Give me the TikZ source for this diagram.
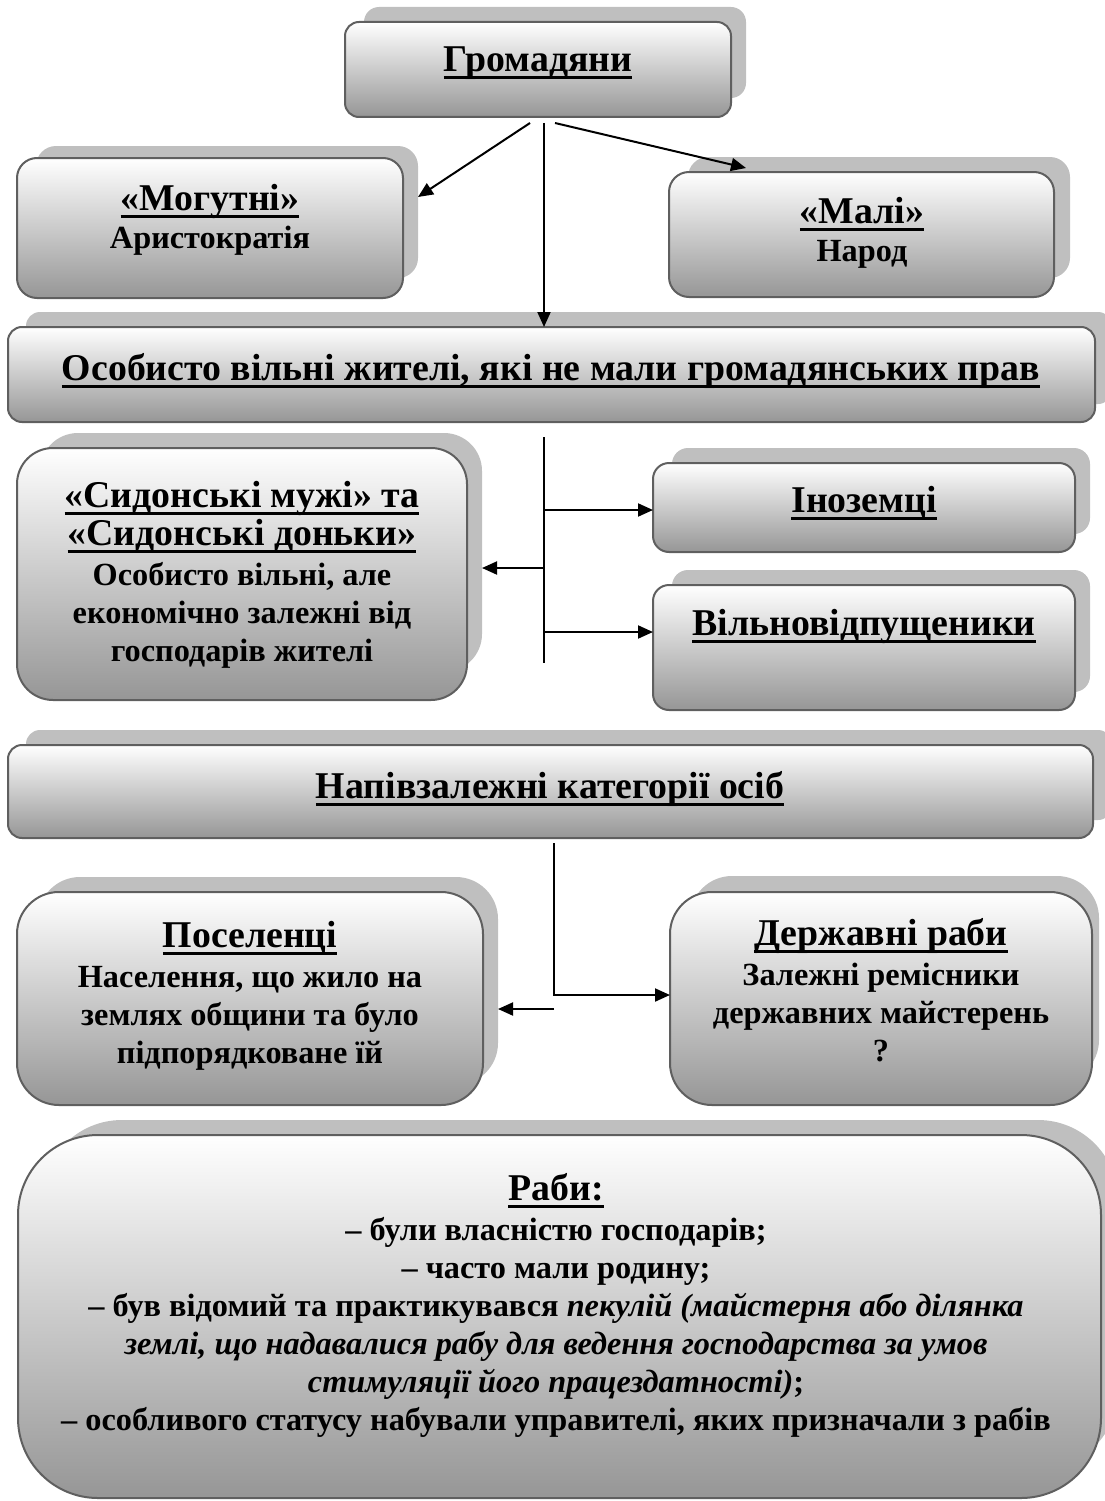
\documentclass[tikz,border=0pt]{standalone}
\usepackage{fontspec}
\setmainfont{Liberation Serif}
\usetikzlibrary{arrows.meta}
\newsavebox\ulbox
\newcommand\ulx[1]{\sbox\ulbox{#1}\rlap{\rule[-7.5pt]{\wd\ulbox}{3pt}}\usebox\ulbox}
\newcommand\hd{\fontsize{37.8}{38}\selectfont}
\newcommand\bd{\fontsize{32.3}{38}\selectfont}
\definecolor{edge}{HTML}{5F5F5F}
\definecolor{shad}{HTML}{BFBFBF}
\definecolor{grad}{HTML}{969696}
\tikzset{
  boxmain/.style={draw=edge, line width=2pt, top color=white, bottom color=grad, inner sep=0pt, outer sep=0pt},
  boxshadow/.style={fill=shad, draw=none, inner sep=0pt, outer sep=0pt},
  txt/.style={inner sep=0pt, outer sep=0pt, font=\bfseries\bd, anchor=base, text=black},
  conn/.style={line width=2pt, black},
  arr/.style={conn, -{Triangle[length=15pt,width=13pt]}},
}
% name, style, x1, y1, x2, y2, radius
\newcommand\rbox[7]{\node[#2, rounded corners=#7pt, minimum width={(#5)-(#3)}, minimum height={(#6)-(#4)}] (#1) at ({((#3)+(#5))/2},{((#4)+(#6))/2}) {};}
\begin{document}
\begin{tikzpicture}[x=1pt,y=-1pt]
\useasboundingbox (0,0) rectangle (1105,1501);
\clip (0,0) rectangle (1105,1501);
% shadows
\rbox{grs}{boxshadow}{364}{7}{746}{98}{15}
\rbox{mgs}{boxshadow}{36}{146}{418}{278}{20}
\rbox{mls}{boxshadow}{688}{157}{1070}{278}{20}
\rbox{oss}{boxshadow}{26}{312}{1112}{404}{14}
\rbox{sds}{boxshadow}{40}{433}{482}{672}{38}
\rbox{ins}{boxshadow}{672}{448}{1090}{534}{16}
\rbox{vls}{boxshadow}{672}{570}{1090}{692}{16}
\rbox{nps}{boxshadow}{26}{730}{1112}{820}{14}
\rbox{pss}{boxshadow}{38}{877}{498}{1085}{42}
\rbox{drs}{boxshadow}{690}{876}{1099}{1082}{42}
\rbox{rbs}{boxshadow}{42}{1120}{1118}{1470}{80}
% main boxes
\rbox{gr}{boxmain}{345}{22}{731}{117}{14}
\rbox{mg}{boxmain}{17}{158}{403}{298}{20}
\rbox{ml}{boxmain}{669}{172}{1054}{297}{20}
\rbox{os}{boxmain}{8}{327}{1095}{422}{14}
\rbox{sd}{boxmain}{17}{448}{467}{700}{36}
\rbox{in}{boxmain}{653}{463}{1075}{552}{16}
\rbox{vl}{boxmain}{653}{585}{1075}{710}{16}
\rbox{np}{boxmain}{8}{745}{1093}{838}{14}
\rbox{ps}{boxmain}{17}{892}{483}{1105}{42}
\rbox{dr}{boxmain}{670}{892}{1092}{1105}{42}
\rbox{rb}{boxmain}{18}{1135}{1101}{1498}{80}
% texts
\node[txt] (tgr) at (538,72) {\hd\ulx{Громадяни}};
\node[txt] (tmg) at (210,210) {\begin{tabular}[t]{@{}c@{}}\hd\ulx{«Могутні»}\\ Аристократія\end{tabular}};
\node[txt] (tml) at (862,223) {\begin{tabular}[t]{@{}c@{}}\hd\ulx{«Малі»}\\ Народ\end{tabular}};
\node[txt] (tos) at (551,380) {\hd\ulx{Особисто вільні жителі, які не мали громадянських прав}};
\node[txt] (tsd) at (242,507) {\begin{tabular}[t]{@{}c@{}}\hd\ulx{«Сидонські мужі» та}\\ \hd\ulx{«Сидонські доньки»}\\[2pt] Особисто вільні, але\\ економічно залежні від\\ господарів жителі\end{tabular}};
\node[txt] (tin) at (864,512) {\hd\ulx{Іноземці}};
\node[txt] (tvl) at (864,635) {\hd\ulx{Вільновідпущеники}};
\node[txt] (tnp) at (550,798) {\hd\ulx{Напівзалежні категорії осіб}};
\node[txt] (tps) at (250,947) {\begin{tabular}[t]{@{}c@{}}\hd\ulx{Поселенці}\\[2pt] Населення, що жило на\\ землях общини та було\\ підпорядковане їй\end{tabular}};
\node[txt] (tdr) at (881,945) {\begin{tabular}[t]{@{}c@{}}\hd\ulx{Державні раби}\\[2pt] Залежні ремісники\\ державних майстерень\\ ?\end{tabular}};
\node[txt] (trb) at (556,1200) {\begin{tabular}[t]{@{}c@{}}\hd\ulx{Раби:}\\[2pt]
– були власністю господарів;\\
– часто мали родину;\\
– був відомий та практикувався \textit{пекулій (майстерня або ділянка}\\
\textit{землі, що надавалися рабу для ведення господарства за умов}\\
\textit{стимуляції його працездатності)};\\
– особливого статусу набували управителі, яких призначали з рабів\end{tabular}};
% connectors
\coordinate (gL) at (530,123);
\coordinate (gR) at (555,123);
\coordinate (gC) at (544,123);
\coordinate (mgT) at (418,197);
\coordinate (mlT) at (746,168);
\draw[arr] (gL) -- (mgT);
\draw[arr] (gR) -- (mlT);
\draw[arr] (gC) -- (gC |- os.north);
\coordinate (v1) at (544,437);
\coordinate (v2) at (544,663);
\coordinate (b1) at (544,510);
\coordinate (b2) at (544,632);
\coordinate (b3) at (544,568);
\draw[conn] (v1) -- (v2);
\draw[arr] (b1) -- (b1 -| in.west);
\draw[arr] (b2) -- (b2 -| vl.west);
\draw[arr] (b3) -- (b3 -| sds.east);
\coordinate (c1) at (554,843);
\coordinate (c2) at (554,995);
\coordinate (c3) at (554,1009);
\draw[arr] (c1) -- (c2) -- (c2 -| dr.west);
\draw[arr] (c3) -- (c3 -| pss.east);
\end{tikzpicture}
\end{document}
